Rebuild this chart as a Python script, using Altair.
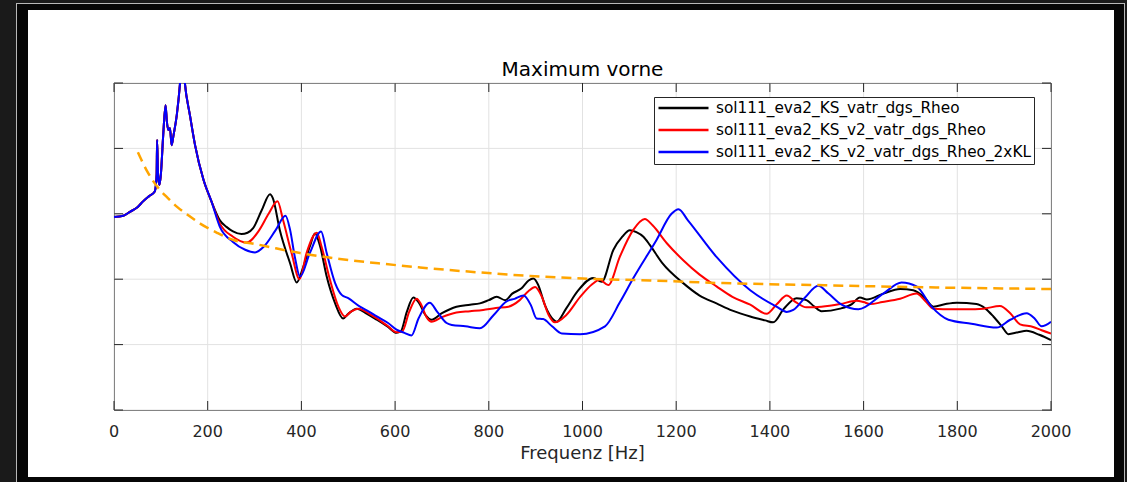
import altair as alt
import pandas as pd

# ---------------- data ----------------
low_f = [0, 20, 34, 50, 62, 75, 87, 91, 92, 94, 97, 100, 105, 110, 113, 116, 119.5, 123, 127, 134, 141, 146, 151, 162, 173, 191, 208]
low_v = [2.95, 2.97, 3.03, 3.10, 3.19, 3.27, 3.34, 3.6, 4.13, 3.6, 3.44, 3.6, 4.2, 4.66, 4.4, 4.28, 4.31, 4.05, 4.2, 4.51, 5.0, 5.5, 5.02, 4.51, 4.05, 3.52, 3.19]

black_f = [226, 240, 254, 272, 285, 297, 315, 333, 339, 354, 376, 390, 404, 418, 429, 440, 454, 472, 489, 500, 518, 540, 561, 585, 603, 612, 625, 639, 650, 665, 678, 700, 731, 760, 781, 800, 817, 835, 850, 870, 885, 895, 905, 920, 938, 945, 965, 990, 1023, 1041, 1066, 1085, 1101, 1115, 1130, 1144, 1170, 1215, 1250, 1286, 1320, 1358, 1390, 1407, 1430, 1457, 1478, 1495, 1510, 1550, 1575, 1592, 1607, 1642, 1678, 1706, 1730, 1749, 1775, 1799, 1841, 1860, 1877, 1895, 1909, 1930, 1948, 1975, 2000]
black_v = [2.9, 2.8, 2.73, 2.69, 2.71, 2.78, 3.05, 3.30, 3.24, 2.75, 2.24, 1.95, 2.19, 2.50, 2.70, 2.50, 2.04, 1.63, 1.40, 1.47, 1.55, 1.47, 1.38, 1.27, 1.18, 1.2, 1.5, 1.72, 1.65, 1.45, 1.38, 1.48, 1.58, 1.61, 1.63, 1.68, 1.73, 1.68, 1.78, 1.86, 1.98, 2.01, 1.92, 1.6, 1.38, 1.35, 1.55, 1.82, 2.02, 1.96, 2.45, 2.65, 2.75, 2.72, 2.65, 2.52, 2.25, 1.94, 1.75, 1.63, 1.52, 1.43, 1.37, 1.34, 1.55, 1.71, 1.68, 1.58, 1.51, 1.55, 1.62, 1.72, 1.69, 1.78, 1.85, 1.83, 1.72, 1.58, 1.62, 1.64, 1.62, 1.55, 1.43, 1.28, 1.16, 1.19, 1.21, 1.15, 1.07]

red_f = [226, 254, 283, 310, 330, 349, 361, 379, 396, 411, 433, 443, 461, 479, 493, 505, 522, 545, 561, 585, 603, 615, 630, 646, 655, 667, 678, 700, 731, 760, 788, 815, 842, 866, 885, 899, 912, 928, 941, 965, 995, 1020, 1037, 1055, 1080, 1108, 1133, 1150, 1180, 1215, 1250, 1286, 1320, 1358, 1393, 1415, 1436, 1455, 1478, 1510, 1550, 1585, 1600, 1614, 1640, 1678, 1713, 1730, 1749, 1790, 1820, 1856, 1891, 1913, 1934, 1962, 1980, 2000]
red_v = [2.85, 2.65, 2.56, 2.75, 3.0, 3.19, 2.90, 2.40, 2.0, 2.40, 2.71, 2.50, 1.99, 1.58, 1.43, 1.5, 1.55, 1.47, 1.40, 1.28, 1.19, 1.2, 1.5, 1.70, 1.62, 1.42, 1.35, 1.42, 1.49, 1.51, 1.53, 1.56, 1.58, 1.68, 1.82, 1.88, 1.75, 1.45, 1.34, 1.45, 1.73, 1.92, 1.99, 1.91, 2.35, 2.75, 2.92, 2.82, 2.55, 2.29, 2.07, 1.89, 1.73, 1.61, 1.47, 1.62, 1.75, 1.65, 1.57, 1.58, 1.62, 1.67, 1.65, 1.62, 1.65, 1.70, 1.78, 1.68, 1.55, 1.54, 1.54, 1.55, 1.59, 1.48, 1.31, 1.27, 1.22, 1.17]

blue_f = [226, 254, 280, 301, 320, 345, 366, 376, 386, 397, 418, 442, 454, 472, 486, 500, 525, 545, 561, 585, 603, 620, 635, 650, 674, 690, 710, 721, 750, 781, 810, 838, 855, 874, 890, 902, 916, 935, 956, 995, 1048, 1080, 1108, 1158, 1190, 1205, 1225, 1286, 1358, 1414, 1436, 1450, 1475, 1503, 1525, 1553, 1589, 1642, 1681, 1713, 1745, 1781, 1830, 1884, 1913, 1948, 1965, 1980, 2000]
blue_v = [2.8, 2.57, 2.45, 2.41, 2.5, 2.75, 2.97, 2.75, 2.34, 2.04, 2.40, 2.73, 2.40, 1.94, 1.76, 1.71, 1.58, 1.5, 1.43, 1.33, 1.23, 1.18, 1.14, 1.4, 1.64, 1.5, 1.33, 1.30, 1.28, 1.25, 1.45, 1.66, 1.7, 1.75, 1.6, 1.40, 1.39, 1.28, 1.17, 1.16, 1.28, 1.65, 2.01, 2.60, 3.0, 3.07, 2.9, 2.34, 1.83, 1.58, 1.50, 1.53, 1.72, 1.90, 1.78, 1.61, 1.54, 1.78, 1.95, 1.89, 1.58, 1.38, 1.32, 1.26, 1.38, 1.48, 1.4, 1.28, 1.35]

limit_f = [51, 70, 95, 115, 134, 160, 184, 220, 255, 300, 340, 397, 482, 568, 653, 750, 888, 1000, 1144, 1300, 1500, 1700, 2000]
limit_v = [3.94, 3.66, 3.39, 3.24, 3.11, 2.97, 2.85, 2.71, 2.60, 2.54, 2.48, 2.40, 2.31, 2.24, 2.18, 2.12, 2.05, 2.01, 1.98, 1.94, 1.91, 1.88, 1.85]

names = ["sol111_eva2_KS_vatr_dgs_Rheo",
         "sol111_eva2_KS_v2_vatr_dgs_Rheo",
         "sol111_eva2_KS_v2_vatr_dgs_Rheo_2xKL"]
colors = ["#000000", "#ff0000", "#0000ff"]

x_ticks = [0, 200, 400, 600, 800, 1000, 1200, 1400, 1600, 1800, 2000]
x_labels = ["0", "200", "400", "600", "800", "1000", "1200", "1400", "1600", "1800", "2000"]
y_ticks = [0, 1, 2, 3, 4, 5]
title_text = "Maximum vorne"
x_title = "Frequenz [Hz]"

# ---------------- tables ----------------
rows = []
for name, f, v in [(names[0], black_f, black_v), (names[1], red_f, red_v), (names[2], blue_f, blue_v)]:
    for fi, vi in zip(low_f + f, low_v + v):
        rows.append({"series": name, "f": fi, "v": vi})
lines_df = pd.DataFrame(rows)
limit_df = pd.DataFrame({"f": limit_f, "v": limit_v})
xt_df = pd.DataFrame({"t": x_ticks, "lab": x_labels})
yt_df = pd.DataFrame({"t": y_ticks})
one = pd.DataFrame({"a": [0]})

W, H = 937, 327
FONT = "DejaVu Sans"
AX = "#262626"
GRID = "#e2e2e2"
xscale = alt.Scale(domain=[0, 2000], nice=False, zero=False)
yscale = alt.Scale(domain=[0, 5], nice=False, zero=False)

# grid (behind the data)
xgrid = alt.Chart(xt_df).mark_rule(color=GRID, strokeWidth=1).encode(
    x=alt.X("t:Q", scale=xscale, axis=None), y=alt.value(0), y2=alt.value(H))
ygrid = alt.Chart(yt_df).mark_rule(color=GRID, strokeWidth=1).encode(
    y=alt.Y("t:Q", scale=yscale, axis=None), x=alt.value(0), x2=alt.value(W))

lines = alt.Chart(lines_df).mark_line(clip=True, strokeWidth=2, interpolate="monotone").encode(
    x=alt.X("f:Q", scale=xscale, axis=None),
    y=alt.Y("v:Q", scale=yscale, axis=None),
    color=alt.Color("series:N", scale=alt.Scale(domain=names, range=colors),
                    sort=names,
                    legend=alt.Legend(title=None, orient="none", legendX=540, legendY=14,
                                      symbolType="stroke", symbolSize=2500,
                                      symbolStrokeWidth=2.5, clipHeight=16,
                                      rowPadding=5, labelOffset=6, padding=3,
                                      labelFontSize=15.3, labelFont=FONT, labelColor="#000000",
                                      strokeColor=AX, fillColor="#ffffff",
                                      labelLimit=500)),
    detail="series:N",
)

limit = alt.Chart(limit_df).mark_line(clip=True, strokeWidth=2.5, strokeDash=[10, 6],
                                      color="#ffa500", interpolate="monotone").encode(
    x=alt.X("f:Q", scale=xscale, axis=None),
    y=alt.Y("v:Q", scale=yscale, axis=None),
)

# inward ticks on all four sides
tick_len = 9
xt_bottom = alt.Chart(xt_df).mark_rule(color=AX, strokeWidth=1).encode(
    x=alt.X("t:Q", scale=xscale, axis=None), y=alt.value(H), y2=alt.value(H - tick_len))
xt_top = alt.Chart(xt_df).mark_rule(color=AX, strokeWidth=1).encode(
    x=alt.X("t:Q", scale=xscale, axis=None), y=alt.value(0), y2=alt.value(tick_len))
yt_left = alt.Chart(yt_df).mark_rule(color=AX, strokeWidth=1).encode(
    y=alt.Y("t:Q", scale=yscale, axis=None), x=alt.value(0), x2=alt.value(tick_len))
yt_right = alt.Chart(yt_df).mark_rule(color=AX, strokeWidth=1).encode(
    y=alt.Y("t:Q", scale=yscale, axis=None), x=alt.value(W), x2=alt.value(W - tick_len))

# tick labels and axis title
xlabels = alt.Chart(xt_df).mark_text(font=FONT, fontSize=16, color=AX, align="center",
                                     baseline="alphabetic").encode(
    x=alt.X("t:Q", scale=xscale, axis=None), y=alt.value(H + 27), text="lab:N")
xtitle = alt.Chart(pd.DataFrame({"txt": [x_title]})).mark_text(
    font=FONT, fontSize=18, color=AX, align="center", baseline="alphabetic"
).encode(text="txt:N", x=alt.value(W / 2), y=alt.value(H + 49))

title = alt.Chart(pd.DataFrame({"txt": [title_text]})).mark_text(
    font=FONT, fontSize=20, color="#000000", align="center", baseline="alphabetic"
).encode(text="txt:N", x=alt.value(W / 2), y=alt.value(-7))

# decorative dark frame around the white figure (pixel offsets relative to plot origin)
def band(x, x2, y, y2, fill):
    return alt.Chart(one).mark_rect(color=fill).encode(
        x=alt.value(x), x2=alt.value(x2), y=alt.value(y), y2=alt.value(y2))

frame = [
    band(-114, -86, -83, 399, "#060606"),
    band(1000, 1013, -83, 399, "#060606"),
    band(-114, 1013, -83, -73, "#060606"),
    band(-114, 1013, 394, 399, "#060606"),
    band(-114, -98, -83, 399, "#1a1a1a"),
    band(-114, 1013, -83, -80, "#1a1a1a"),
    band(1011, 1013, -83, 399, "#1a1a1a"),
    band(-98, -97, -80, 399, "#b8b8b8"),
    band(-98, 1011, -80, -79, "#b8b8b8"),
    band(1010, 1011, -80, 399, "#b8b8b8"),
]

chart = alt.layer(xgrid, ygrid, lines, limit, xt_bottom, xt_top, yt_left, yt_right,
                  xlabels, xtitle, title, *frame).properties(
    width=W, height=H,
    autosize=alt.AutoSizeParams(type="none"),
    padding={"left": 114, "top": 83, "right": 76, "bottom": 72},
).configure(background="#ffffff").configure_view(stroke=AX, strokeWidth=1)

chart.save("out.html", embed_options={"renderer": "svg", "actions": False})
